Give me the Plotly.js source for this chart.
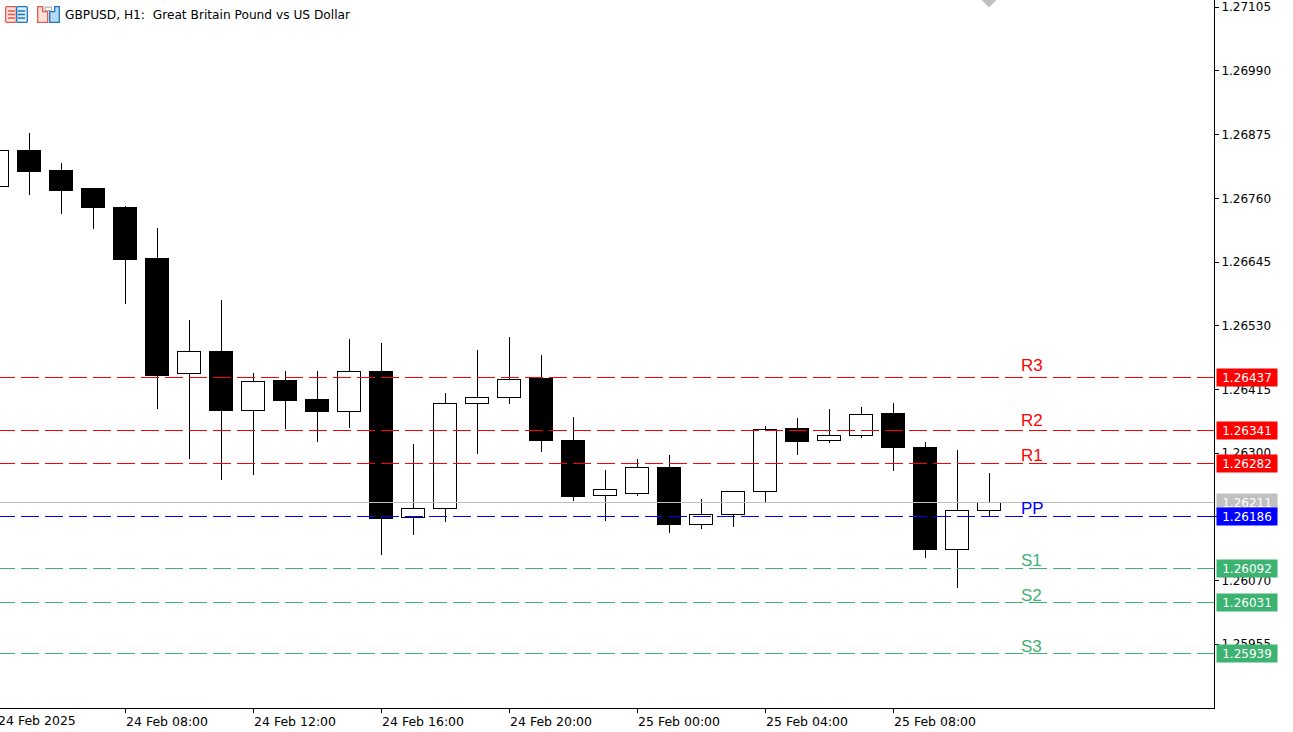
<!DOCTYPE html>
<html>
<head>
<meta charset="utf-8">
<script src="https://cdn.plot.ly/plotly-3.0.1.min.js"></script>
<style>
  html, body { margin: 0; padding: 0; background: #fff; overflow: hidden; }
  /* terminal style: no antialiasing on the price lines and candles */
  .scatterlayer .js-line, .boxlayer path { shape-rendering: crispEdges; }
</style>
</head>
<body>
<div id="chart" style="width:1293px;height:732px"></div>
<script>
// hourly bars, 24 Feb 04:00 -> 25 Feb 11:00
var times = [];
for (var h = 4; h < 24; h++) times.push("2025-02-24 " + String(h).padStart(2, "0") + ":00");
for (var h2 = 0; h2 < 12; h2++) times.push("2025-02-25 " + String(h2).padStart(2, "0") + ":00");

var opens  = [1.26782,1.26847,1.26811,1.26777,1.26744,1.26652,1.26444,1.26484,1.26377,1.26432,1.26396,1.26376,1.26448,1.26183,1.26201,1.26390,1.26401,1.26434,1.26322,1.26224,1.26228,1.26275,1.26172,1.26190,1.26230,1.26344,1.26322,1.26331,1.26371,1.26311,1.26127,1.26197];
var highs  = [1.26856,1.26878,1.26824,1.26777,1.26746,1.26706,1.26540,1.26576,1.26445,1.26448,1.26448,1.26506,1.26499,1.26317,1.26409,1.26486,1.26510,1.26477,1.26365,1.26270,1.26290,1.26297,1.26217,1.26230,1.26349,1.26364,1.26380,1.26383,1.26391,1.26320,1.26306,1.26264];
var lows   = [1.26775,1.26766,1.26732,1.26705,1.26569,1.26379,1.26290,1.26252,1.26261,1.26344,1.26321,1.26346,1.26117,1.26153,1.26175,1.26299,1.26389,1.26303,1.26213,1.26178,1.26222,1.26155,1.26164,1.26167,1.26211,1.26297,1.26319,1.26328,1.26267,1.26110,1.26056,1.26184];
var closes = [1.26847,1.26809,1.26775,1.26743,1.26650,1.26441,1.26484,1.26377,1.26430,1.26395,1.26375,1.26448,1.26182,1.26201,1.26390,1.26401,1.26433,1.26323,1.26222,1.26235,1.26275,1.26171,1.26190,1.26230,1.26343,1.26321,1.26331,1.26370,1.26310,1.26126,1.26197,1.26211];

var levelNames  = ["R3", "R2", "R1", "PP", "S1", "S2", "S3"];
var levelValues = [1.26437, 1.26341, 1.26282, 1.26186, 1.26092, 1.26031, 1.25939];
var levelColors = ["#ff0000", "#ff0000", "#ff0000", "#0000ff", "#3cb371", "#3cb371", "#3cb371"];
var levelLift   = [12, 10, 8, 8, 8, 7, 7];
var bidPrice = 1.26211;

var yTicks = [1.27105, 1.26990, 1.26875, 1.26760, 1.26645, 1.26530, 1.26415, 1.26300, 1.26185, 1.26070, 1.25955];
var xTicks = ["2025-02-24 08:00", "2025-02-24 12:00", "2025-02-24 16:00", "2025-02-24 20:00", "2025-02-25 00:00", "2025-02-25 04:00", "2025-02-25 08:00"];
var xLabels = ["24 Feb 08:00", "24 Feb 12:00", "24 Feb 16:00", "24 Feb 20:00", "25 Feb 00:00", "25 Feb 04:00", "25 Feb 08:00"];

var xRange = ["2025-02-24 04:05:37", "2025-02-25 18:01:52"];
var yRange = [1.25840, 1.27118];

var axisFont = { family: "DejaVu Sans", size: 12, color: "#000" };
var dateFont = { family: "DejaVu Sans", size: 12.5, color: "#000" };

var candles = {
  type: "candlestick",
  x: times, open: opens, high: highs, low: lows, close: closes,
  increasing: { line: { color: "#000", width: 1 }, fillcolor: "#fff" },
  decreasing: { line: { color: "#000", width: 1 }, fillcolor: "#000" },
  whiskerwidth: 0,
  showlegend: false,
  hoverinfo: "skip"
};

var bidLine = {
  type: "scatter", mode: "lines",
  x: xRange, y: [bidPrice, bidPrice],
  line: { color: "#c0c0c0", width: 1 },
  showlegend: false, hoverinfo: "skip"
};

var traces = [bidLine, candles];

// pivot levels, dashes start on the first bar
levelNames.forEach(function (name, i) {
  traces.push({
    type: "scatter", mode: "lines",
    x: [times[0], xRange[1]], y: [levelValues[i], levelValues[i]],
    line: { color: levelColors[i], width: 1, dash: "18px,6px" },
    showlegend: false, hoverinfo: "skip"
  });
});

// grey marker clipped by the top edge
traces.push({
  type: "scatter", mode: "markers",
  x: [times[times.length - 1]], y: [1.27122],
  marker: { symbol: "diamond", size: 15, color: "#c0c0c0" },
  showlegend: false, hoverinfo: "skip"
});

var annotations = [];

function priceBox(value, color, textColor) {
  return {
    xref: "paper", yref: "y", x: 1, y: value,
    xanchor: "left", yanchor: "middle", xshift: 2,
    width: 60, height: 17, borderpad: 0, align: "center",
    text: value.toFixed(5), showarrow: false,
    bgcolor: color,
    font: { family: "DejaVu Sans", size: 12, color: textColor }
  };
}

annotations.push(priceBox(bidPrice, "#c0c0c0", "#ffffff"));
levelNames.forEach(function (name, i) {
  annotations.push({
    xref: "x", yref: "y", x: "2025-02-25 12:00", y: levelValues[i],
    xanchor: "left", yanchor: "middle", xshift: -2, yshift: levelLift[i],
    text: name, showarrow: false,
    font: { family: "Liberation Sans", size: 17, color: levelColors[i] }
  });
  annotations.push(priceBox(levelValues[i], levelColors[i], "#ffffff"));
});

// first date label sits on an hour left of the visible range
annotations.push({
  xref: "paper", yref: "paper", x: 0, y: 0,
  xanchor: "left", yanchor: "top", xshift: -4, yshift: -3,
  text: "24 Feb 2025", showarrow: false, font: dateFont
});

// chart title
annotations.push({
  xref: "paper", yref: "paper", x: 0, y: 1,
  xanchor: "left", yanchor: "top", xshift: 63, yshift: -6,
  text: "GBPUSD, H1:  Great Britain Pound vs US Dollar", showarrow: false,
  font: { family: "DejaVu Sans", size: 12.2, color: "#000" }
});

// the two small toolbar icons next to the title
var iconBook = "<svg xmlns='http://www.w3.org/2000/svg' width='23' height='17'>" +
  "<rect x='.7' y='.7' width='10.6' height='15.6' rx='1' fill='#fde4e0' stroke='#e8574a' stroke-width='1.3'/>" +
  "<rect x='11.7' y='.7' width='10.6' height='15.6' rx='1' fill='#dcecf8' stroke='#1c75bc' stroke-width='1.3'/>" +
  "<path d='M3 5h7M3 8.5h7M3 12h7' stroke='#e8574a' stroke-width='1.3'/>" +
  "<path d='M13 5h7M13 8.5h7M13 12h7' stroke='#1c75bc' stroke-width='1.3'/></svg>";
var iconPages = "<svg xmlns='http://www.w3.org/2000/svg' width='23' height='17'>" +
  "<path d='M.7.7h5v5h5v10.6h-10z' fill='#fde0da' stroke='#e8574a' stroke-width='1.3'/>" +
  "<path d='M22.3.7h-4.6v5h-5v10.6h9.6z' fill='#b5daf5' stroke='#1c75bc' stroke-width='1.3'/>" +
  "<rect x='8' y='1.2' width='6.5' height='3.4' rx='.8' fill='#fff' stroke='#b0b0b0' stroke-width='1.2'/></svg>";

function iconImage(svg, left) {
  return {
    source: "data:image/svg+xml," + encodeURIComponent(svg),
    xref: "paper", yref: "paper", xanchor: "left", yanchor: "top",
    x: left / 1214, y: 1 - 6 / 708, sizex: 23 / 1214, sizey: 17 / 708,
    sizing: "stretch", layer: "above"
  };
}

var layout = {
  width: 1293, height: 732,
  margin: { l: 0, r: 79, t: 0, b: 24, pad: 0 },
  paper_bgcolor: "#fff", plot_bgcolor: "#fff",
  showlegend: false,
  boxgap: 0.3, boxgroupgap: 0,
  images: [iconImage(iconBook, 5), iconImage(iconPages, 37)],
  xaxis: {
    type: "date", range: xRange,
    rangeslider: { visible: false },
    tickmode: "array", tickvals: xTicks, ticktext: xLabels,
    ticklabelshift: 42, ticklabelstandoff: -2,
    ticks: "outside", ticklen: 4, tickcolor: "#000", tickwidth: 1,
    showline: true, linecolor: "#000", linewidth: 1,
    showgrid: false, zeroline: false,
    tickfont: dateFont, tickangle: 0
  },
  yaxis: {
    side: "right", range: yRange,
    tickmode: "array", tickvals: yTicks,
    tickformat: ".5f",
    ticks: "outside", ticklen: 4, tickcolor: "#000", tickwidth: 1,
    showline: true, linecolor: "#000", linewidth: 1,
    showgrid: false, zeroline: false,
    tickfont: axisFont
  },
  annotations: annotations
};

Plotly.newPlot("chart", traces, layout, { displayModeBar: false, staticPlot: true }).then(function (gd) {
  // plotly always strokes a median just inside the close edge, which doubles it
  gd.querySelectorAll(".boxlayer path.box").forEach(function (p) {
    p.setAttribute("d", p.getAttribute("d").replace(/^M[^M]*/, ""));
  });
});
</script>
</body>
</html>
